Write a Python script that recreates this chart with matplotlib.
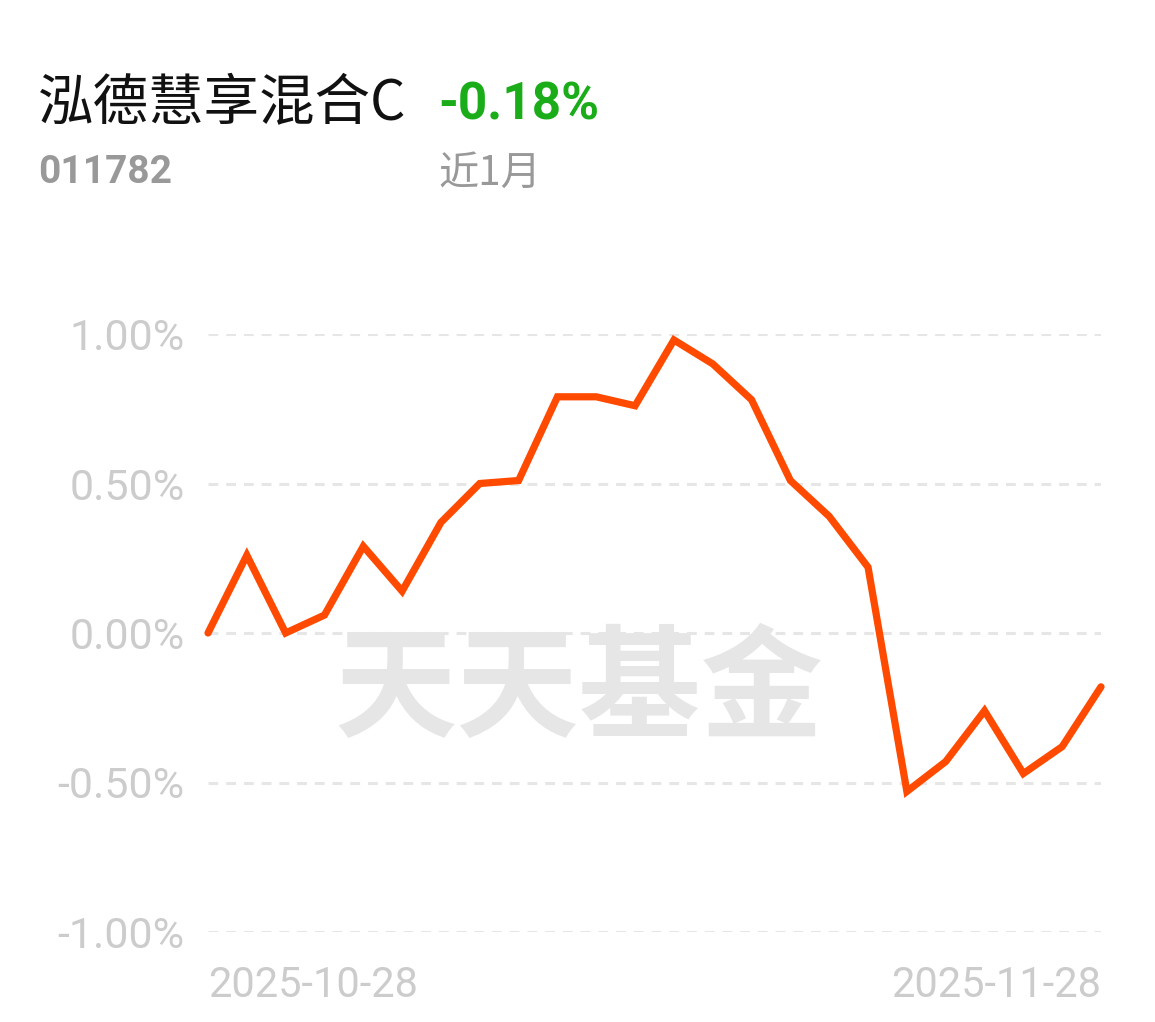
import matplotlib.pyplot as plt
import numpy as np

# daily return since start, %
returns = [0.00, 0.26, 0.00, 0.06, 0.29, 0.14, 0.37, 0.50, 0.51, 0.79,
           0.79, 0.76, 0.98, 0.90, 0.78, 0.51, 0.39, 0.22, -0.53, -0.43,
           -0.26, -0.47, -0.38, -0.18]
y_ticks = [-1.0, -0.5, 0.0, 0.5, 1.0]
y_labels = ["-1.00%", "-0.50%", "0.00%", "0.50%", "1.00%"]
date_labels = ["2025-10-28", "2025-11-28"]

fund_name = "泓德慧享混合C"
fund_code = "011782"
period_ret = "-0.18%"
period = "近1月"

cjk = ["Noto Sans CJK SC", "DejaVu Sans"]
num = ["Roboto", "DejaVu Sans"]

fig = plt.figure(figsize=(11.55, 10.22), dpi=100)
W, H = 1155, 1022
ax = fig.add_axes([208 / W, 1 - 932 / H, (1101 - 208) / W, (932 - 334) / H])

x = np.arange(len(returns))
ax.plot(x, returns, color="#ff4a00", lw=5.2, solid_joinstyle="miter",
        solid_capstyle="round", clip_on=False, zorder=3)

ax.set_xlim(0, len(returns) - 1)
ax.set_ylim(-1.0, 1.0)

for yv in y_ticks:
    ax.axhline(yv, color="#e6e6e6", lw=2.2, dashes=(3.2, 2.6), zorder=2)

ax.set_yticks(y_ticks)
ax.set_yticklabels(y_labels, fontfamily=num, fontsize=31, color="#cccccc")
ax.set_xticks([0, len(returns) - 1])
ax.set_xticklabels(date_labels, fontfamily=num, fontsize=30, color="#cccccc")
xt = ax.get_xticklabels()
xt[0].set_ha("left")
xt[1].set_ha("right")
ax.tick_params(axis="y", length=0, pad=17)
ax.tick_params(axis="x", length=0, pad=24)
for s in ax.spines.values():
    s.set_visible(False)

# watermark
ax.text(0.415, 0.40, "天天基金", transform=ax.transAxes, ha="center", va="center",
        fontsize=88, fontweight="bold", color="#e6e6e6", family=cjk, zorder=1)

# header
fig.text(38 / W, 1 - 120 / H, fund_name, fontsize=40, family=cjk, color="#111111",
         va="baseline")
fig.text(438 / W, 1 - 120 / H, period_ret, fontsize=37, fontweight="bold",
         family=num, color="#1aad19", va="baseline")
fig.text(38 / W, 1 - 183 / H, fund_code, fontsize=28, fontweight="bold",
         family=num, color="#999999", va="baseline")
fig.text(438 / W, 1 - 185 / H, period, fontsize=29, family=cjk, color="#999999",
         va="baseline")

fig.savefig("out.png", dpi=100, facecolor="white")
